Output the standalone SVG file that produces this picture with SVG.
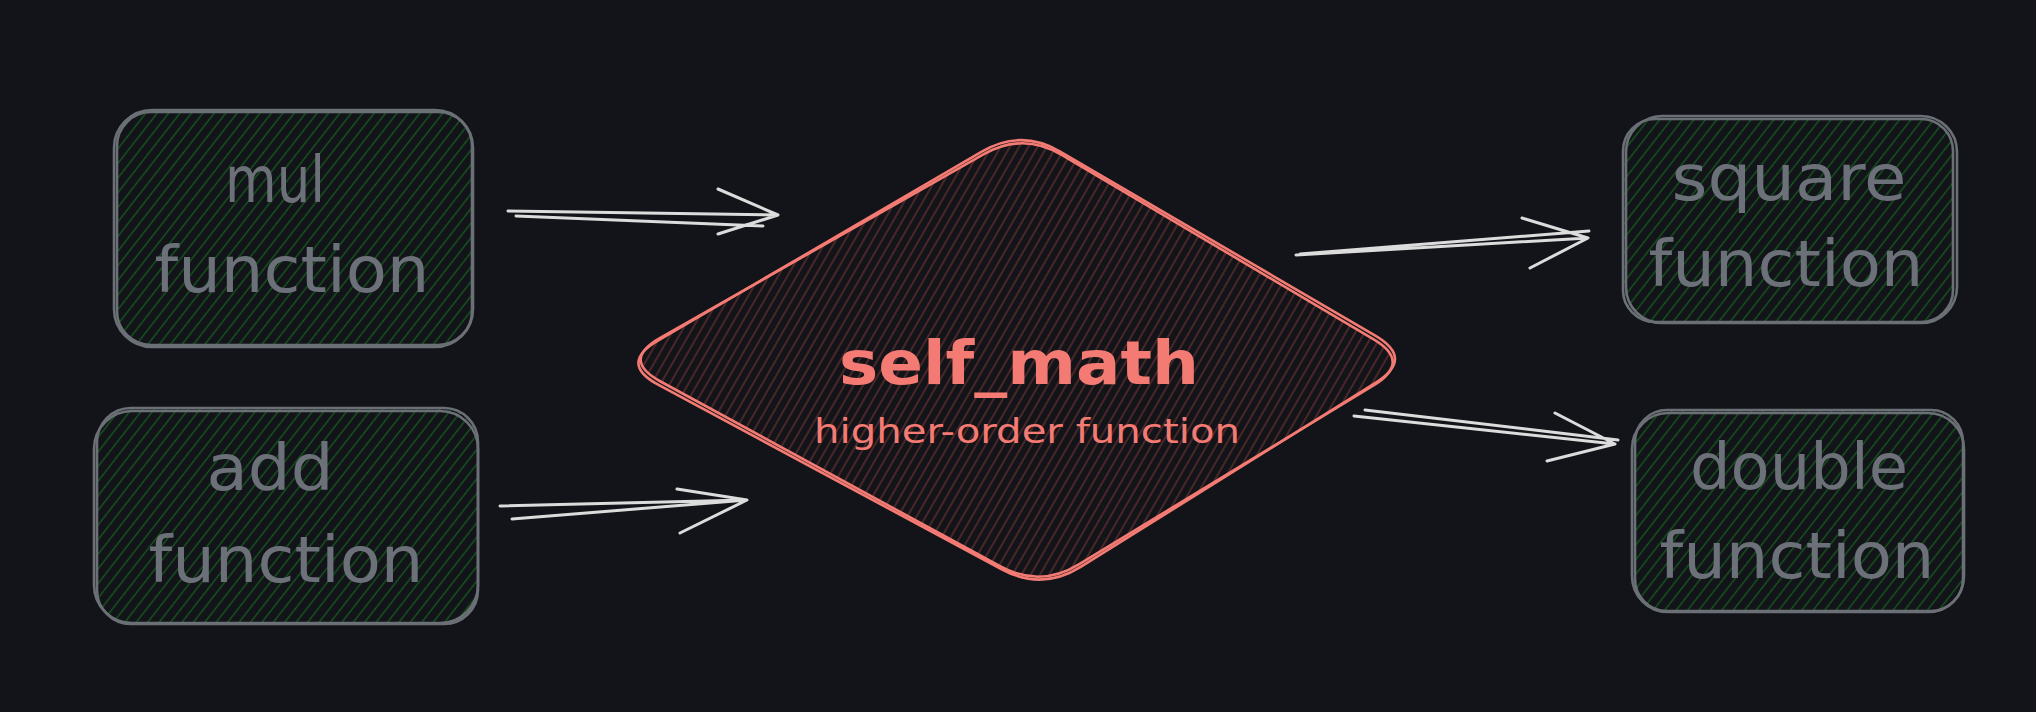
<svg xmlns="http://www.w3.org/2000/svg" width="2036" height="712" viewBox="0 0 2036 712">
<style>
.box{fill:url(#hg);}
.bs{fill:none;stroke:#6b6f76;stroke-width:2.6;}
.bt{font-family:"DejaVu Sans","Noto Sans",sans-serif;font-size:64px;fill:#6c7078;text-anchor:middle;}
.ds{fill:none;stroke:#f47b73;stroke-width:2.6;stroke-linejoin:round;}
.dt{font-family:"DejaVu Sans","Noto Sans",sans-serif;fill:#f47b73;text-anchor:middle;}
.ar{fill:none;stroke:#dcdcdc;stroke-width:3;stroke-linecap:round;stroke-linejoin:round;}
</style>
<defs>
<pattern id="hg" width="9" height="9" patternUnits="userSpaceOnUse" patternTransform="rotate(38)">
<rect width="9" height="9" fill="#121419"/>
<line x1="4.5" y1="0" x2="4.5" y2="9" stroke="#175a1f" stroke-width="1.3"/>
</pattern>
<pattern id="hr" width="8" height="8" patternUnits="userSpaceOnUse" patternTransform="rotate(30)">
<rect width="8" height="8" fill="#121419"/>
<line x1="4" y1="0" x2="4" y2="8" stroke="#66312e" stroke-width="1.3"/>
</pattern>
<path id="dia" d="M660.2,337.8 L983.8,154.2 Q1023,132 1061.7,154.9 L1373.3,339.1 Q1412,362 1373.5,385.4 L1078.5,564.6 Q1040,588 1000.5,566.5 L660.5,381.5 Q621,360 660.2,337.8 Z"/>
</defs>
<rect width="2036" height="712" fill="#121419"/>

<g id="connectors">
<path class="ar" d="M508,211 L778,215 M516,216 L763,226 M718,189 L778,215 L718,234"/>
<path class="ar" d="M500,506 L747,500 M512,519 L747,500 M677,489 L747,500 L680,533"/>
<path class="ar" d="M1296,255 L1588,238 M1300,254 L1589,231 M1522,218 L1588,238 L1530,268"/>
<path class="ar" d="M1354,416 L1615,444 M1365,410 L1618,440 M1555,413 L1615,444 L1547,461"/>
</g>

<g id="mul">
<rect class="box" x="117" y="112" width="355" height="233" rx="34"/>
<rect class="bs" x="117" y="112" width="355" height="233" rx="34"/>
<rect class="bs" x="114" y="110" width="359" height="237" rx="38"/>
<text class="bt" x="275" y="202" textLength="100" lengthAdjust="spacingAndGlyphs">mul</text>
<text class="bt" x="292" y="292" textLength="275" lengthAdjust="spacingAndGlyphs">function</text>
</g>

<g id="add">
<rect class="box" x="97" y="408" width="381" height="216" rx="34"/>
<rect class="bs" x="97" y="408" width="381" height="216" rx="34"/>
<rect class="bs" x="94" y="411" width="384" height="212" rx="38"/>
<text class="bt" x="270" y="490" textLength="127" lengthAdjust="spacingAndGlyphs">add</text>
<text class="bt" x="286" y="582" textLength="275" lengthAdjust="spacingAndGlyphs">function</text>
</g>

<g id="square">
<rect class="box" x="1623" y="119" width="330" height="203" rx="32"/>
<rect class="bs" x="1623" y="119" width="330" height="203" rx="32"/>
<rect class="bs" x="1626" y="116" width="331" height="207" rx="36"/>
<text class="bt" x="1789" y="200" textLength="235" lengthAdjust="spacingAndGlyphs">square</text>
<text class="bt" x="1786" y="286" textLength="275" lengthAdjust="spacingAndGlyphs">function</text>
</g>

<g id="double">
<rect class="box" x="1635" y="410" width="328" height="201" rx="32"/>
<rect class="bs" x="1635" y="410" width="328" height="201" rx="32"/>
<rect class="bs" x="1632" y="413" width="332" height="199" rx="36"/>
<text class="bt" x="1799" y="489" textLength="218" lengthAdjust="spacingAndGlyphs">double</text>
<text class="bt" x="1797" y="578" textLength="275" lengthAdjust="spacingAndGlyphs">function</text>
</g>

<g id="self_math">
<use href="#dia" fill="url(#hr)"/>
<use href="#dia" class="ds"/>
<use href="#dia" class="ds" transform="translate(1016 360) scale(1.006 1.014) rotate(-0.5) translate(-1016 -360)"/>
<text class="dt" x="1019" y="384" font-size="60" font-weight="bold" textLength="360" lengthAdjust="spacingAndGlyphs">self_math</text>
<text class="dt" x="1027" y="443" font-size="34" textLength="426" lengthAdjust="spacingAndGlyphs">higher-order function</text>
</g>
</svg>
